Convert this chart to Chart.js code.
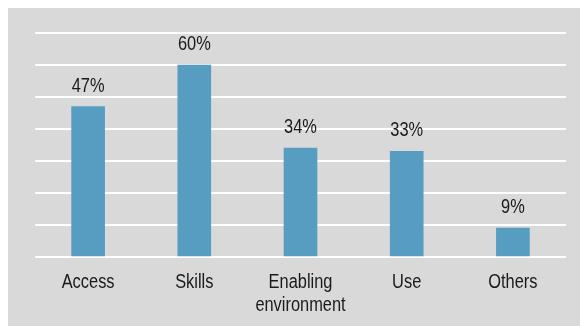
<!DOCTYPE html>
<html>
<head>
<meta charset="utf-8">
<script src="https://cdn.jsdelivr.net/npm/chart.js@4/dist/chart.umd.min.js"></script>
<style>
  html, body { margin: 0; padding: 0; background: #ffffff; }
  #wrap { position: relative; width: 580px; height: 326px; }
</style>
</head>
<body>
<div id="wrap"><canvas id="chart"></canvas></div>
<script>
// categories and shares (percent)
const categories = ['Access', 'Skills', ['Enabling', 'environment'], 'Use', 'Others'];
const shares = [47, 60, 34, 33, 9];
const yMax = 70;
const yStep = 10;

const textFont = '20px "Liberation Sans", Arial, sans-serif';
const textColor = '#1a1a1a';
const narrow = 0.82; // squeeze text horizontally, narrow-face look

// write a string condensed horizontally around (x, y)
function narrowText(ctx, str, x, y) {
    ctx.save();
    ctx.translate(x, y);
    ctx.scale(narrow, 1);
    ctx.fillText(str, 0, 0);
    ctx.restore();
}

// grey panel behind the plot, offset from the top-left corner
const panelBg = {
    id: 'panelBg',
    beforeDraw: function (chart) {
        const ctx = chart.ctx;
        ctx.save();
        ctx.fillStyle = '#d9d9d9';
        ctx.fillRect(8, 8, chart.width - 8, chart.height - 8);
        ctx.restore();
    }
};

// percentage above each bar, category names under the axis
const barLabels = {
    id: 'barLabels',
    afterDatasetsDraw: function (chart) {
        const ctx = chart.ctx;
        const meta = chart.getDatasetMeta(0);
        const xScale = chart.scales.x;
        ctx.save();
        ctx.font = textFont;
        ctx.fillStyle = textColor;
        ctx.textAlign = 'center';
        ctx.textBaseline = 'alphabetic';
        meta.data.forEach(function (bar, i) {
            narrowText(ctx, shares[i] + '%', bar.x, bar.y - 15);
        });
        ctx.textBaseline = 'middle';
        categories.forEach(function (cat, i) {
            const x = xScale.getPixelForValue(i);
            const lines = Array.isArray(cat) ? cat : [cat];
            lines.forEach(function (line, j) {
                narrowText(ctx, line, x, chart.chartArea.bottom + 25 + j * 23);
            });
        });
        ctx.restore();
    }
};

const chartConfig = {
    type: 'bar',
    data: {
        labels: categories,
        datasets: [{
            data: shares,
            backgroundColor: '#579cc1',
            borderWidth: 0,
            barThickness: 33
        }]
    },
    options: {
        responsive: true,
        maintainAspectRatio: false,
        animation: false,
        layout: {
            padding: { left: 35, right: 14, top: 33, bottom: 0 }
        },
        plugins: {
            legend: { display: false },
            tooltip: { enabled: false }
        },
        scales: {
            x: {
                grid: { display: false, drawTicks: false },
                border: { display: false },
                ticks: { display: false },
                afterFit: function (scale) { scale.height = 69; }
            },
            y: {
                min: 0,
                max: yMax,
                ticks: { display: false, stepSize: yStep },
                grid: { color: '#ffffff', lineWidth: 2, drawTicks: false },
                border: { display: false },
                afterFit: function (scale) { scale.width = 0; }
            }
        }
    },
    plugins: [panelBg, barLabels]
};

new Chart(document.getElementById('chart').getContext('2d'), chartConfig);
</script>
</body>
</html>
